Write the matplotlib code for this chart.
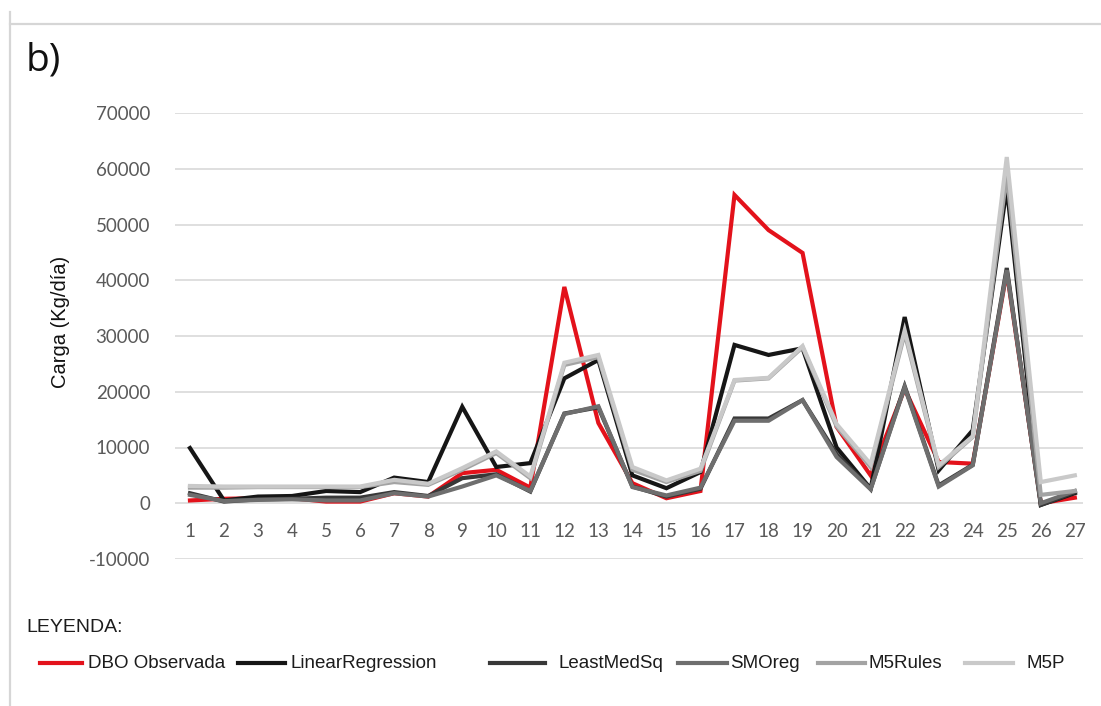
import numpy as np
import matplotlib.pyplot as plt
from matplotlib.lines import Line2D

plt.rcParams['axes.unicode_minus'] = False

# Carga diaria de DBO: observada vs. modelos
dias = list(range(1, 28))

dbo_observada = [500, 800, 900, 900, 300, 300, 1800, 1200, 5400, 6000, 2800, 38800, 14400,
                 3600, 900, 2200, 55300, 49000, 44900, 13700, 5000, 20500, 7400, 7100, 41500, 0, 1000]
linear_regression = [9900, 500, 1200, 1300, 2200, 2000, 4600, 3800, 17300, 6500, 7200, 22400, 25700,
                     5000, 2700, 5600, 28400, 26600, 27800, 10000, 2600, 33400, 5900, 13100, 56700, -300, 1800]
least_med_sq = [1800, 300, 700, 800, 1000, 1000, 2000, 1300, 4500, 5200, 2100, 16100, 17200,
                3000, 1200, 2600, 15200, 15200, 18500, 8800, 2600, 21000, 3200, 6900, 42200, -300, 2000]
smo_reg = [1500, 400, 600, 700, 500, 500, 1800, 1200, 3000, 5000, 2200, 16000, 17400,
           2900, 1400, 2800, 14800, 14800, 18500, 8300, 2500, 20800, 3000, 6800, 41800, 0, 2200]
m5_rules = [2800, 2800, 2900, 2900, 2900, 2900, 3800, 3300, 6000, 9000, 4500, 24800, 26200,
            6000, 3800, 5800, 22000, 22400, 28000, 13800, 6500, 30500, 6500, 11900, 59000, 1500, 2200]
m5p = [3100, 3000, 3000, 3000, 3000, 3000, 4200, 3500, 6300, 9300, 4800, 25200, 26600,
       6500, 4100, 6200, 22100, 22500, 28200, 14200, 7000, 31000, 6800, 12000, 62100, 3800, 5000]

series = [
    ('DBO Observada', dbo_observada, '#e3121b'),
    ('LinearRegression', linear_regression, '#161616'),
    ('LeastMedSq', least_med_sq, '#383838'),
    ('SMOreg', smo_reg, '#6e6e6e'),
    ('M5Rules', m5_rules, '#a3a3a3'),
    ('M5P', m5p, '#c9c9c9'),
]

W, H = 1101, 706
fig = plt.figure(figsize=(W / 100, H / 100), dpi=100)
ax = fig.add_axes([175 / W, 1 - 559 / H, (1083 - 175) / W, (559 - 113) / H])

for nombre, valores, color in series:
    ax.plot(dias, valores, color=color, lw=3.0, label=nombre, solid_joinstyle='miter')

ax.set_xlim(0.56, 27.24)
ax.set_ylim(-10000, 70000)
ax.set_yticks(np.arange(-10000, 70001, 10000))
ax.set_xticks(dias)
ax.grid(axis='y', color='#dcdcdc', lw=1.3)
ax.set_axisbelow(True)
for s in ['top', 'right', 'left']:
    ax.spines[s].set_visible(False)
ax.spines['bottom'].set_position(('data', 0))
ax.spines['bottom'].set_visible(False)
ax.tick_params(axis='both', length=0, labelcolor='#5a5a5a')
ax.tick_params(axis='y', pad=18)
ax.tick_params(axis='x', pad=14)
for lab in ax.get_xticklabels() + ax.get_yticklabels():
    lab.set_fontfamily('Lato')
    lab.set_fontsize(13.5)

fig.text(60 / W, 1 - 322 / H, 'Carga (Kg/día)', rotation=90, ha='center', va='center',
         fontsize=14.5, family='Liberation Sans', color='#111111')
fig.text(26 / W, 1 - 61 / H, 'b)', ha='left', va='center', fontsize=28,
         family='Open Sans', color='#111111')

# marco de la figura
fig.add_artist(Line2D([10 / W, 10 / W], [1 - 12 / H, 0], color='#d6d6d6', lw=1.6))
fig.add_artist(Line2D([10 / W, 1], [1 - 24 / H, 1 - 24 / H], color='#d6d6d6', lw=1.6))

# leyenda
fig.text(26 / W, 1 - 628 / H, 'LEYENDA:', ha='left', va='center', fontsize=14,
         family='Liberation Sans', color='#1c1c1c')
ley_y = 1 - 663 / H
lineas_x = [(40, 82), (238, 285), (490, 545), (678, 727), (818, 865), (965, 1013)]
textos_x = [88, 290, 558, 730, 868, 1027]
for (nombre, _, color), (x0, x1), tx in zip(series, lineas_x, textos_x):
    fig.add_artist(Line2D([x0 / W, x1 / W], [ley_y, ley_y], color=color, lw=3))
    fig.text(tx / W, ley_y, nombre, ha='left', va='center', fontsize=13.5,
             family='Liberation Sans', color='#1c1c1c')

fig.savefig('out.png', dpi=100, facecolor='white')
